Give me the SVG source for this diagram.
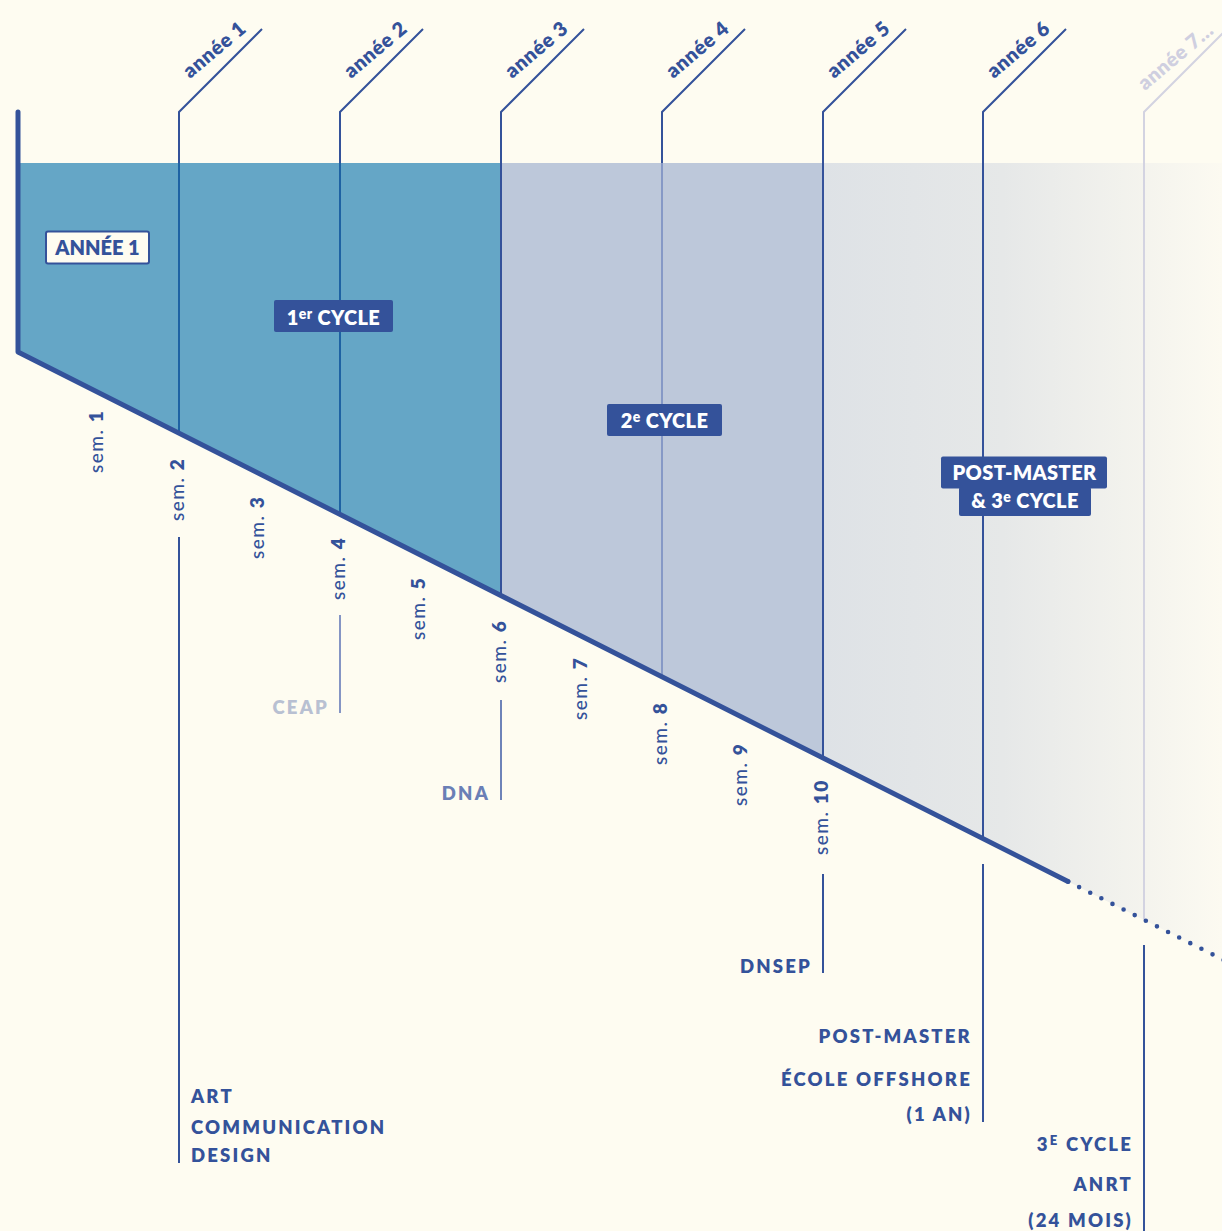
<svg xmlns="http://www.w3.org/2000/svg" width="1222" height="1231" viewBox="0 0 1222 1231">
<style>
.t{font-family:Lato,"Open Sans","Liberation Sans",sans-serif;fill:#34529a}
.b{font-weight:800}
.yr{font-size:20px;font-weight:800;letter-spacing:0.6px}
.sem{font-size:19px;font-weight:500;letter-spacing:1.5px}
.lbl{font-size:18.5px;font-weight:800;letter-spacing:2.2px}
.box{font-size:20px;font-weight:800;fill:#fff;letter-spacing:0.4px}
.dk{stroke:#34529a;stroke-width:2;fill:none}
</style>
<defs>
<linearGradient id="g3" gradientUnits="userSpaceOnUse" x1="823" y1="0" x2="1222" y2="0">
<stop offset="0" stop-color="#dee2e6"/>
<stop offset="0.45" stop-color="#e6e8e8"/>
<stop offset="1" stop-color="#fcfaf1"/>
</linearGradient>
</defs>
<rect width="1222" height="1231" fill="#fefcf1"/>
<g id="regions">
<polygon points="18,163 501,163 501,595.6 18,352" fill="#65a6c6"/>
<polygon points="501,163 823,163 823,758 501,595.6" fill="#bdc8da"/>
<polygon points="823,163 1222,163 1222,959.2 823,758" fill="url(#g3)"/>
</g>
<g id="connectors">
<polyline class="dk" points="262,29 179,112 179,163"/>
<polyline class="dk" points="423,29 340,112 340,163"/>
<polyline class="dk" points="584,29 501,112 501,595.6"/>
<polyline class="dk" points="745,29 662,112 662,163"/>
<polyline class="dk" points="906,29 823,112 823,758"/>
<polyline class="dk" points="1066,29 983,112 983,838.6"/>
<polyline points="1227,29 1144,112 1144,919.8" fill="none" stroke="#d3d3e1" stroke-width="2"/>
<line x1="179" y1="163" x2="179" y2="433" stroke="#1e62a3" stroke-width="2"/>
<line x1="340" y1="163" x2="340" y2="514" stroke="#1e62a3" stroke-width="2"/>
<line x1="662" y1="163" x2="662" y2="677" stroke="#8699c6" stroke-width="2"/>
<polyline points="18,112 18,352 1068,881.5" fill="none" stroke="#34529a" stroke-width="5" stroke-linejoin="round" stroke-linecap="round"/>
<line x1="1068" y1="881.5" x2="1240" y2="968.2" stroke="#34529a" stroke-width="4.6" stroke-linecap="round" stroke-dasharray="0 12.45"/>
<line x1="179" y1="537" x2="179" y2="1163" class="dk"/>
<line x1="340" y1="615" x2="340" y2="713" stroke="#8595c4" stroke-width="2"/>
<line x1="501" y1="700" x2="501" y2="800" stroke="#6e83b8" stroke-width="2"/>
<line x1="823" y1="874" x2="823" y2="973" class="dk"/>
<line x1="983" y1="864" x2="983" y2="1122" class="dk"/>
<line x1="1144" y1="945" x2="1144" y2="1231" class="dk"/>
</g>
<g id="years">
<text class="t yr" transform="translate(190,79) rotate(-40)">année 1</text>
<text class="t yr" transform="translate(351,79) rotate(-40)">année 2</text>
<text class="t yr" transform="translate(512,79) rotate(-40)">année 3</text>
<text class="t yr" transform="translate(673,79) rotate(-40)">année 4</text>
<text class="t yr" transform="translate(834,79) rotate(-40)">année 5</text>
<text class="t yr" transform="translate(994,79) rotate(-40)">année 6</text>
<text class="t yr" transform="translate(1145,91) rotate(-40)" style="fill:#cfcfe0">année 7…</text>
</g>
<g id="semesters">
<text class="t sem" transform="translate(103,473) rotate(-90)">sem. <tspan class="b">1</tspan></text>
<text class="t sem" transform="translate(184,521) rotate(-90)">sem. <tspan class="b">2</tspan></text>
<text class="t sem" transform="translate(264,559) rotate(-90)">sem. <tspan class="b">3</tspan></text>
<text class="t sem" transform="translate(345,600) rotate(-90)">sem. <tspan class="b">4</tspan></text>
<text class="t sem" transform="translate(425,640) rotate(-90)">sem. <tspan class="b">5</tspan></text>
<text class="t sem" transform="translate(506,683) rotate(-90)">sem. <tspan class="b">6</tspan></text>
<text class="t sem" transform="translate(587,720) rotate(-90)">sem. <tspan class="b">7</tspan></text>
<text class="t sem" transform="translate(667,765) rotate(-90)">sem. <tspan class="b">8</tspan></text>
<text class="t sem" transform="translate(747,806) rotate(-90)">sem. <tspan class="b">9</tspan></text>
<text class="t sem" transform="translate(828,855) rotate(-90)">sem. <tspan class="b">10</tspan></text>
</g>
<g id="annee1-box">
<rect x="46" y="231.5" width="103" height="32" rx="2" fill="#fefcf1" stroke="#34529a" stroke-width="2"/>
<text class="t b" x="97.5" y="255" font-size="20" text-anchor="middle">ANNÉE 1</text>
</g>
<g id="cycle1">
<rect x="274" y="300" width="119" height="32" rx="2" fill="#34529a"/>
<text class="t box" x="333.5" y="325" text-anchor="middle">1<tspan font-size="14" dy="-6">er</tspan><tspan dy="6"> CYCLE</tspan></text>
</g>
<g id="cycle2">
<rect x="607" y="404" width="115" height="32" rx="2" fill="#34529a"/>
<text class="t box" x="664.5" y="428" text-anchor="middle">2<tspan font-size="14" dy="-6">e</tspan><tspan dy="6"> CYCLE</tspan></text>
</g>
<g id="cycle3">
<rect x="941" y="456.5" width="166" height="32" rx="2" fill="#34529a"/>
<rect x="959" y="487" width="132" height="29" rx="2" fill="#34529a"/>
<text class="t box" x="1024.5" y="480" text-anchor="middle">POST-MASTER</text>
<text class="t box" x="1025" y="508" text-anchor="middle">&amp; 3<tspan font-size="14" dy="-6">e</tspan><tspan dy="6"> CYCLE</tspan></text>
</g>
<g id="diplomas">
<text class="t lbl" x="191" y="1103">ART</text>
<text class="t lbl" x="191" y="1134">COMMUNICATION</text>
<text class="t lbl" x="191" y="1162">DESIGN</text>
<text class="t lbl" x="329" y="714" text-anchor="end" style="fill:#b8c0d2">CEAP</text>
<text class="t lbl" x="490" y="800" text-anchor="end" style="fill:#6a7fb6">DNA</text>
<text class="t lbl" x="812" y="973" text-anchor="end">DNSEP</text>
<text class="t lbl" x="972" y="1043" text-anchor="end">POST-MASTER</text>
<text class="t lbl" x="972" y="1086" text-anchor="end">ÉCOLE OFFSHORE</text>
<text class="t lbl" x="972" y="1121" text-anchor="end">(1 AN)</text>
<text class="t lbl" x="1133" y="1151" text-anchor="end">3<tspan font-size="13" dy="-6">E</tspan><tspan dy="6"> CYCLE</tspan></text>
<text class="t lbl" x="1133" y="1191" text-anchor="end">ANRT</text>
<text class="t lbl" x="1133" y="1227" text-anchor="end">(24 MOIS)</text>
</g>
</svg>
